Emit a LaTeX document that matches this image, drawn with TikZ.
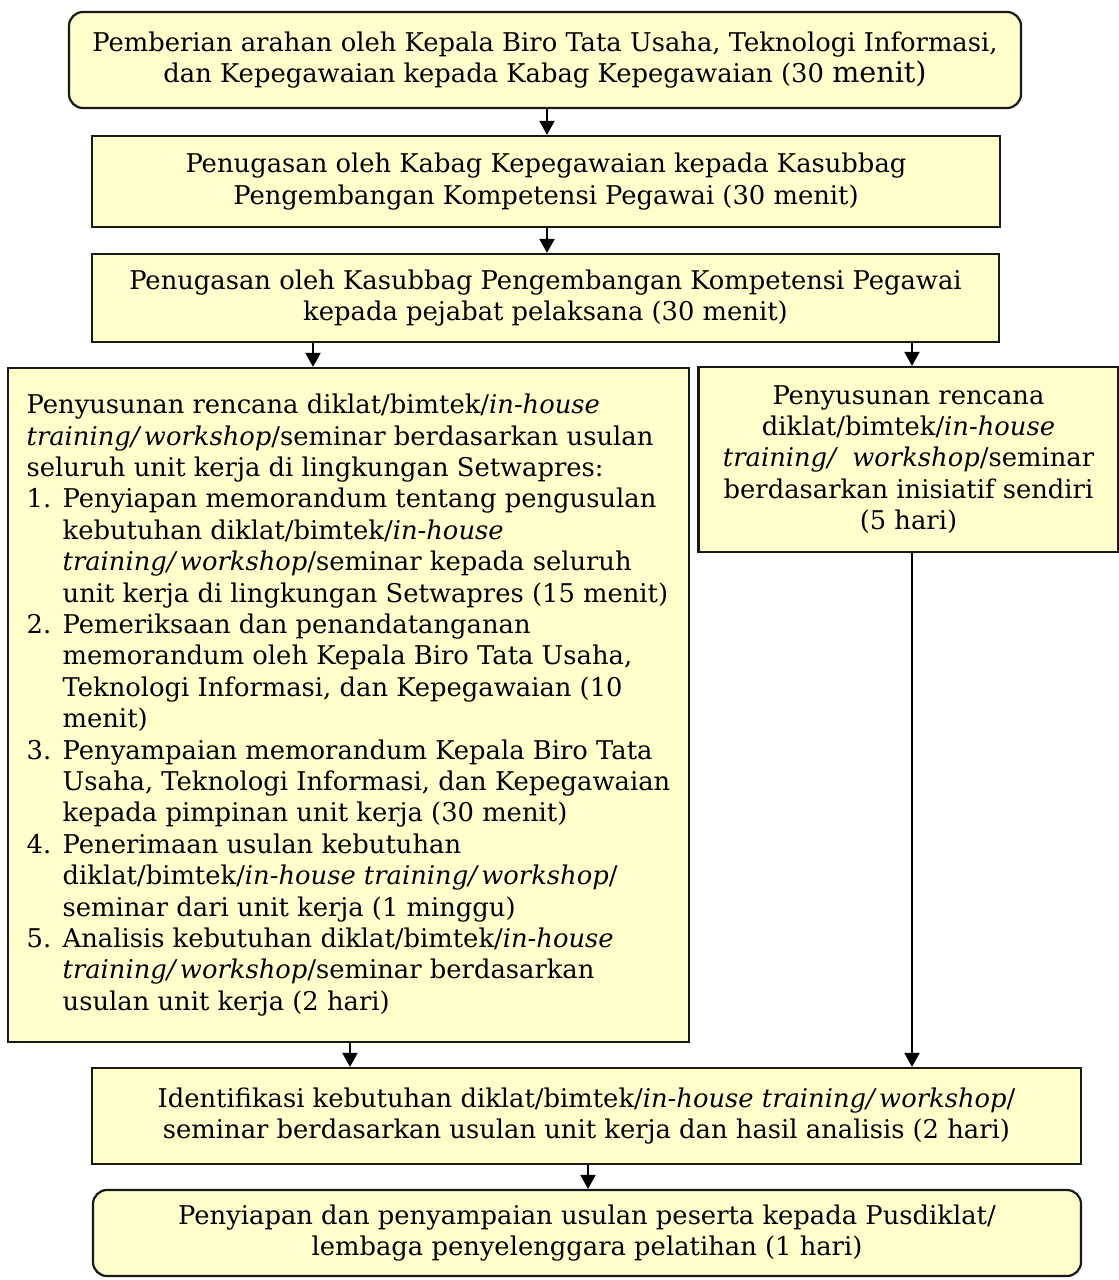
\documentclass[tikz,border=0pt]{standalone}
\usepackage{fontspec}
\setmainfont{DejaVu Serif}
\usetikzlibrary{arrows.meta}
\definecolor{boxfill}{HTML}{FFFFCC}
\newcommand{\bodysize}{\fontsize{12.9pt}{15.7pt}\selectfont}
\newcommand{\ind}{\hspace*{18pt}}
\newcommand{\num}[1]{\makebox[18pt][l]{#1}}
\tikzset{
  box/.style={draw=black!90, line width=1.1pt, fill=boxfill, inner sep=0pt, align=center, font=\bodysize},
  rbox/.style={box, rounded corners=7pt},
  arr/.style={-{Triangle[width=7.5pt,length=7pt]}, line width=1pt, draw=black},
}
\begin{document}
\begin{tikzpicture}[x=0.5pt,y=-0.5pt]
\useasboundingbox (0,0) rectangle (1119,1280);

\node[rbox, minimum width=476pt, minimum height=48pt] (b1) at (545,60)
 {Pemberian arahan oleh Kepala Biro Tata Usaha, Teknologi Informasi,\\
  dan Kepegawaian kepada Kabag Kepegawaian (30 {\fontsize{14.3pt}{15.7pt}\selectfont menit)}};

\node[box, minimum width=454pt, minimum height=45.5pt] (b2) at (546,181.5)
 {Penugasan oleh Kabag Kepegawaian kepada Kasubbag\\
  Pengembangan Kompetensi Pegawai (30 menit)};

\node[box, minimum width=453.5pt, minimum height=44pt] (b3) at (545.5,298)
 {Penugasan oleh Kasubbag Pengembangan Kompetensi Pegawai\\
  kepada pejabat pelaksana (30 menit)};

\node[box, align=left, minimum width=340.5pt, minimum height=337pt] (b4) at (348.5,705)
 {Penyusunan rencana diklat/bimtek/\textit{in-house}\\
  \textit{training/\,workshop}/seminar berdasarkan usulan\\
  seluruh unit kerja di lingkungan Setwapres:\\
  \num{1.}Penyiapan memorandum tentang pengusulan\\
  \ind kebutuhan diklat/bimtek/\textit{in-house}\\
  \ind\textit{training/\,workshop}/seminar kepada seluruh\\
  \ind unit kerja di lingkungan Setwapres (15 menit)\\
  \num{2.}Pemeriksaan dan penandatanganan\\
  \ind memorandum oleh Kepala Biro Tata Usaha,\\
  \ind Teknologi Informasi, dan Kepegawaian (10\\
  \ind menit)\\
  \num{3.}Penyampaian memorandum Kepala Biro Tata\\
  \ind Usaha, Teknologi Informasi, dan Kepegawaian\\
  \ind kepada pimpinan unit kerja (30 menit)\\
  \num{4.}Penerimaan usulan kebutuhan\\
  \ind diklat/bimtek/\textit{in-house training/\,workshop}/\\
  \ind seminar dari unit kerja (1 minggu)\\
  \num{5.}Analisis kebutuhan diklat/bimtek/\textit{in-house}\\
  \ind\textit{training/\,workshop}/seminar berdasarkan\\
  \ind usulan unit kerja (2 hari)};

\node[box, minimum width=210pt, minimum height=92.5pt] (b5) at (908.5,459.5)
 {Penyusunan rencana\\
  diklat/bimtek/\textit{in-house}\\
  \textit{training/ \ workshop}/seminar\\
  berdasarkan inisiatif sendiri\\
  (5 hari)};

\node[box, minimum width=494.5pt, minimum height=48pt] (b6) at (586.5,1116)
 {Identifikasi kebutuhan diklat/bimtek/\textit{in-house training/\,workshop}/\\
  seminar berdasarkan usulan unit kerja dan hasil analisis (2 hari)};

\node[rbox, minimum width=494pt, minimum height=43pt] (b7) at (587,1233)
 {Penyiapan dan penyampaian usulan peserta kepada Pusdiklat/\\
  lembaga penyelenggara pelatihan (1 hari)};

\coordinate (xa) at (547,0);
\coordinate (xb) at (313,0);
\coordinate (xc) at (912,0);
\coordinate (xd) at (350,0);
\coordinate (xe) at (588,0);

\draw[arr] (b1.south -| xa) -- (b2.north -| xa);
\draw[arr] (b2.south -| xa) -- (b3.north -| xa);
\draw[arr] (b3.south -| xb) -- (b4.north -| xb);
\draw[arr] (b3.south -| xc) -- (b5.north -| xc);
\draw[arr] (b4.south -| xd) -- (b6.north -| xd);
\draw[arr] (b5.south -| xc) -- (b6.north -| xc);
\draw[arr] (b6.south -| xe) -- (b7.north -| xe);
\end{tikzpicture}
\end{document}
